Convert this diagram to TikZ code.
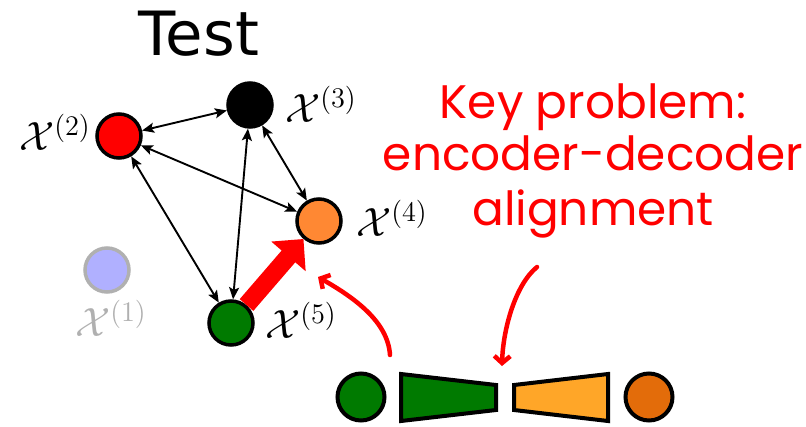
\documentclass[tikz,border=0pt]{standalone}
\usepackage{fontspec}
\newfontfamily\titlefont{DejaVu Sans}
\newfontfamily\notefont{Poppins}
\usetikzlibrary{arrows.meta,calc}
\definecolor{nodeorange}{HTML}{FF8833}
\definecolor{leafgreen}{HTML}{007A00}
\definecolor{paleblue}{HTML}{B0B0FF}
\definecolor{palegray}{HTML}{B0B0B0}
\definecolor{deeporange}{HTML}{E36C0A}
\definecolor{lightorange}{HTML}{FFA628}
\begin{document}
\begin{tikzpicture}[x=1pt,y=-1pt,
  gnode/.style={circle, draw=black, line width=3.5pt, minimum size=44pt, inner sep=0pt},
  lbl/.style={font=\fontsize{20.74}{25}\selectfont, inner sep=0pt, scale=1.97, transform shape},
  link/.style={line width=1.9pt,
    {Stealth[length=12pt,width=10pt,inset=2.5pt]}-{Stealth[length=12pt,width=10pt,inset=2.5pt]}},
  note/.style={red, line width=4.5pt, line cap=round,
    -{Straight Barb[length=7pt,width=16pt]}},
  notetext/.style={red, font=\notefont\fontsize{47}{54}\selectfont, inner sep=0pt, anchor=base},
  block/.style={draw=black, line width=4pt},
]
\useasboundingbox (0,0) rectangle (806,426);

% title
\node[font=\titlefont\fontsize{61}{70}\selectfont, anchor=base, inner sep=0pt] (title) at (199,55) {Test};

% graph nodes
\node[gnode, draw=palegray, fill=paleblue] (X1) at (107,270) {};
\node[gnode, fill=red] (X2) at (119,136) {};
\node[gnode, fill=black] (X3) at (250,105) {};
\node[gnode, fill=nodeorange] (X4) at (319,221) {};
\node[gnode, fill=leafgreen] (X5) at (231,323) {};

% labels
\node[lbl, text=palegray] (L1) at (111,318) {$\mathcal{X}^{(1)}$};
\node[lbl] (L2) at (55,132) {$\mathcal{X}^{(2)}$};
\node[lbl] (L3) at (321,104) {$\mathcal{X}^{(3)}$};
\node[lbl] (L4) at (392,218) {$\mathcal{X}^{(4)}$};
\node[lbl] (L5) at (301,320) {$\mathcal{X}^{(5)}$};

% dependencies
\draw[link] (X2) -- (X3);
\draw[link] (X2) -- (X4);
\draw[link] (X2) -- (X5);
\draw[link] (X3) -- (X4);
\draw[link] (X3) -- (X5);
\draw[red, line width=18pt, -{Triangle[length=23pt,width=44pt]}] (X5) -- (X4);

% remark
\node[notetext] (k1) at (593,118) {Key problem:};
\node[notetext] (k2) at (593,170) {encoder-decoder};
\node[notetext] (k3) at (593,225) {alignment};

% encoder / decoder pipeline
\node[circle, draw=black, line width=4pt, fill=leafgreen, minimum size=47pt, inner sep=0pt] (inp) at (361,397) {};
\draw[block, fill=leafgreen] (401,374) -- (496,385) -- (496,410) -- (401,421) -- cycle;
\draw[block, fill=lightorange] (514,385) -- (608,374) -- (608,421) -- (514,410) -- cycle;
\node[circle, draw=black, line width=4pt, fill=deeporange, minimum size=47pt, inner sep=0pt] (out) at (649,397) {};

% pointers
\coordinate (p1s) at (390,355);
\coordinate (p1e) at (318,277);
\coordinate (p2s) at (537,267);
\coordinate (p2e) at (502,366);
\draw[note] (p1s) .. controls (388,322) and (355,298) .. (p1e);
\draw[note] (p2s) .. controls (515,285) and (503,330) .. (p2e);
\end{tikzpicture}
\end{document}
